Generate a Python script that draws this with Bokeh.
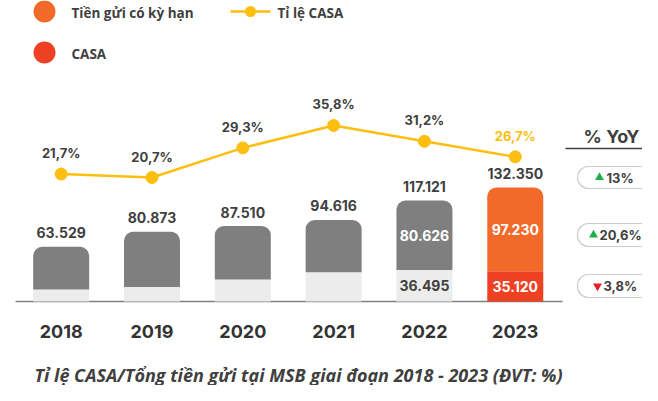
from bokeh.plotting import figure
from bokeh.models import Range1d, ColumnDataSource, BoxAnnotation
from bokeh.core.properties import value
from bokeh.embed import file_html
from bokeh.resources import INLINE

# ---------------- data ----------------
years = ["2018", "2019", "2020", "2021", "2022", "2023"]
term_deposits = [49.73, 64.17, 61.87, 60.74, 80.626, 97.23]   # Tiền gửi có kỳ hạn
casa = [13.8, 16.7, 25.64, 33.88, 36.495, 35.12]               # CASA
total_labels = ["63.529", "80.873", "87.510", "94.616", "117.121", "132.350"]
term_labels = ["", "", "", "", "80.626", "97.230"]
casa_labels = ["", "", "", "", "36.495", "35.120"]
casa_ratio = [21.7, 20.7, 29.3, 35.8, 31.2, 26.7]
ratio_labels = ["21,7%", "20,7%", "29,3%", "35,8%", "31,2%", "26,7%"]
yoy_labels = ["13%", "20,6%", "3,8%"]
yoy_up = [True, True, False]
legend_labels = ["Tiền gửi có kỳ hạn", "CASA", "Tỉ lệ CASA"]
yoy_title = "% YoY"
caption = "Tỉ lệ CASA/Tổng tiền gửi tại MSB giai đoạn 2018 - 2023 (ĐVT: %)"

# ---------------- layout ----------------
W, H = 642, 385
XPX = 90.82          # px per category step
X0 = -0.668
YPX = 0.8614         # px per unit of deposits
Y_TOP = 349.43
RPX = 3.444          # px per percentage point (ratio axis)

def dx(cx):
    return X0 + cx / XPX

def dy(cy):
    return Y_TOP - cy / YPX

GRAY = "#7f7f7f"
LIGHT = "#ececec"
ORANGE = "#f26a2a"
RED = "#ee4124"
YELLOW = "#fdbf0f"
DARK = "#404040"

p = figure(width=W, height=H, output_backend="svg", toolbar_location=None,
           x_range=Range1d(X0, X0 + W / XPX), y_range=Range1d(Y_TOP - H / YPX, Y_TOP),
           x_axis_type=None, y_axis_type=None, min_border=0,
           outline_line_color=None, background_fill_color="white")
p.extra_y_ranges = {"ratio": Range1d(20.7 - 208 / RPX, 20.7 + 177 / RPX)}

xs = list(range(len(years)))
totals = [t + c for t, c in zip(term_deposits, casa)]
n = len(years)
term_colors = [GRAY] * (n - 1) + [ORANGE]
casa_colors = [LIGHT] * (n - 1) + [RED]
BW = 56 / XPX

src = ColumnDataSource(dict(
    x=xs, casa=casa, total=totals, term=term_deposits,
    term_color=term_colors, casa_color=casa_colors,
    total_label=total_labels,
    total_y=[t + 14 / YPX for t in totals],
    term_label=term_labels, term_y=[c + t / 2 for c, t in zip(casa, term_deposits)],
    term_text_color=["white"] * n,
    casa_label=casa_labels, casa_y=[c / 2 for c in casa],
    casa_text_color=[DARK] * (n - 1) + ["white"],
    year=years, year_y=[dy(331)] * n,
    ratio=casa_ratio, ratio_label=ratio_labels,
    ratio_y=[r + 21 / RPX for r in casa_ratio],
    ratio_color=[DARK] * (n - 1) + [YELLOW],
))

# baseline
p.segment(x0=[dx(15)], y0=[0], x1=[dx(562)], y1=[0], line_color=GRAY, line_width=1.5)

# bars
p.vbar(x="x", bottom=0, top="casa", width=BW, fill_color="casa_color",
       line_color=None, source=src)
p.vbar(x="x", bottom="casa", top="total", width=BW, fill_color="term_color",
       line_color=None, border_radius=(9, 9, 0, 0), source=src)

num_font = value("Inter")
p.text(x="x", y="total_y", text="total_label", text_align="center", text_baseline="middle",
       text_font=num_font, text_font_style="bold", text_font_size="14px",
       text_color=DARK, source=src)
p.text(x="x", y="term_y", text="term_label", text_align="center", text_baseline="middle",
       text_font=num_font, text_font_style="bold", text_font_size="14px",
       text_color="term_text_color", source=src)
p.text(x="x", y="casa_y", text="casa_label", text_align="center", text_baseline="middle",
       text_font=num_font, text_font_style="bold", text_font_size="14px",
       text_color="casa_text_color", source=src)
p.text(x="x", y="year_y", text="year", text_align="center", text_baseline="middle",
       text_font=num_font, text_font_style="bold", text_font_size="18px",
       text_color="#333333", source=src)

# CASA ratio line
p.line(x="x", y="ratio", y_range_name="ratio", line_color=YELLOW, line_width=2.5, source=src)
p.scatter(x="x", y="ratio", y_range_name="ratio", size=12, fill_color=YELLOW,
          line_color=YELLOW, source=src)
p.text(x="x", y="ratio_y", y_range_name="ratio", text="ratio_label", text_align="center",
       text_baseline="middle", text_font=num_font, text_font_style="bold",
       text_font_size="13px", text_color="ratio_color", source=src)

# legend
leg_font = value("Open Sans")
p.scatter(x=[dx(44), dx(44)], y=[dy(11), dy(52)], size=22,
          fill_color=[ORANGE, RED], line_color=None)
p.segment(x0=[dx(230)], y0=[dy(11)], x1=[dx(270)], y1=[dy(11)], line_color=YELLOW, line_width=2.5)
p.scatter(x=[dx(250)], y=[dy(11)], size=11, fill_color=YELLOW, line_color=None)
p.text(x=[dx(71), dx(71), dx(277)], y=[dy(12), dy(53), dy(12)], text=legend_labels,
       text_align="left", text_baseline="middle", text_font=leg_font,
       text_font_style="bold", text_font_size="13.5px", text_color=DARK)

# YoY panel
p.text(x=[dx(639)], y=[dy(136)], text=[yoy_title], text_align="right", text_baseline="middle",
       text_font=num_font, text_font_style="bold", text_font_size="18px", text_color=DARK)
p.segment(x0=[dx(565)], y0=[dy(148)], x1=[dx(650)], y1=[dy(148)], line_color=DARK, line_width=1.5)

pill_rows = [(166, 188), (223, 246), (274, 297)]
tri_x = [599, 593, 597]
txt_x = [606, 599, 603]
for (t, b) in pill_rows:
    p.add_layout(BoxAnnotation(left=dx(577), right=dx(664), top=dy(t), bottom=dy(b),
                               fill_color=None, line_color="#555555", line_width=1.2,
                               border_radius=11))
pill_cy = [(t + b) / 2 for t, b in pill_rows]
for i in range(3):
    up = yoy_up[i]
    p.scatter(x=[dx(tri_x[i])], y=[dy(pill_cy[i])], size=9,
              marker="triangle" if up else "inverted_triangle",
              fill_color="#1fae4b" if up else "#e8202a", line_color=None)
p.text(x=[dx(v) for v in txt_x], y=[dy(c) for c in pill_cy], text=yoy_labels,
       text_align="left", text_baseline="middle", text_font=num_font,
       text_font_style="bold", text_font_size="13px", text_color=DARK)

# caption
p.text(x=[dx(34)], y=[dy(374)], text=[caption], text_align="left", text_baseline="middle",
       text_font=leg_font, text_font_style="bold italic", text_font_size="18px",
       text_color=DARK)

open("out.html", "w").write(file_html(p, INLINE))
